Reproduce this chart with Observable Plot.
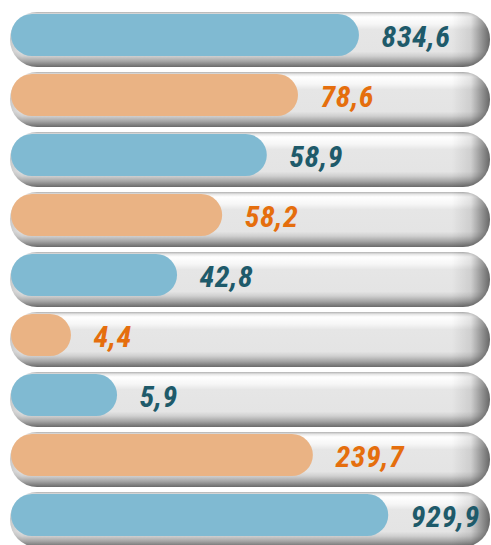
<!DOCTYPE html>
<html><head><meta charset="utf-8">
<script src="https://cdn.jsdelivr.net/npm/d3@7"></script>
<script src="https://cdn.jsdelivr.net/npm/@observablehq/plot@0.6"></script>
<style>html,body{margin:0;padding:0;background:#fff;} #chart svg{display:block}</style>
</head><body><div id="chart"></div>
<script>
// Data
const rows = ["1", "2", "3", "4", "5", "6", "7", "8", "9"];
const values = [834.6, 78.6, 58.9, 58.2, 42.8, 4.4, 5.9, 239.7, 929.9];
const shares = [72.7, 60.0, 53.5, 44.2, 34.8, 12.7, 22.3, 63.1, 78.8]; // bar fill, % of track
const series = ["A", "B", "A", "B", "A", "B", "A", "B", "A"];
const seriesNames = ["A", "B"];

const barColor = {A: "#80bad2", B: "#eab384"};
const labelColor = {A: "#1e5a6a", B: "#e56e0d"};
const fmt = v => d3.format(".1f")(v).replace(".", ",");

const data = rows.map((r, i) => ({row: r, value: values[i], share: shares[i], series: series[i]}));

function defs() {
  const d = d3.create("svg:defs");
  const v = d.append("linearGradient").attr("id", "tube").attr("x1", 0).attr("y1", 0).attr("x2", 0).attr("y2", 1);
  [[0, "#b0b0b0"], [0.04, "#e6e6e6"], [0.09, "#ffffff"], [0.22, "#f6f6f6"], [0.32, "#e6e6e6"],
   [0.72, "#e4e4e4"], [0.8, "#d0d0d0"], [0.9, "#a2a2a2"], [1, "#6a6a6a"]]
    .forEach(([o, c]) => v.append("stop").attr("offset", o).attr("stop-color", c));
  const h = d.append("linearGradient").attr("id", "tubeEnd").attr("x1", 0).attr("y1", 0).attr("x2", 1).attr("y2", 0);
  [[0, "#000", 0.12], [0.025, "#000", 0], [0.92, "#000", 0], [0.96, "#000", 0.1], [1, "#000", 0.55]]
    .forEach(([o, c, a]) => h.append("stop").attr("offset", o).attr("stop-color", c).attr("stop-opacity", a));
  return d.node();
}

const step = 60.5, band = 55;
const chart = Plot.plot({
  width: 491,
  height: 545,
  margin: 0,
  x: {domain: [0, 100], range: [10, 490], axis: null},
  y: {domain: rows, range: [10, 10 + 8 * step + band], paddingInner: (step - band) / step, paddingOuter: 0, axis: null},
  style: {fontFamily: "'Roboto Condensed', 'Liberation Sans Narrow', 'DejaVu Sans Condensed', Roboto, sans-serif"},
  marks: [
    defs,
    Plot.barX(data, {x1: 0, x2: 100, y: "row", fill: "url(#tube)", rx: 27}),
    Plot.barX(data, {x1: 0, x2: 100, y: "row", fill: "url(#tubeEnd)", rx: 27}),
    Plot.barX(data, {x1: 0, x2: "share", y: "row", fill: d => barColor[d.series], rx: 21, insetTop: 2, insetBottom: 11, insetLeft: 1}),
    Plot.text(data, {x: "share", y: "row", text: d => fmt(d.value), fill: d => labelColor[d.series],
      textAnchor: "start", dx: 22, dy: -3, fontSize: 30, fontWeight: "bold", fontStyle: "italic"})
  ]
});
chart.querySelectorAll("text").forEach(t => { t.style.fontStretch = "condensed"; t.style.letterSpacing = "0.6px"; });
document.getElementById("chart").appendChild(chart);
</script>
</body></html>
